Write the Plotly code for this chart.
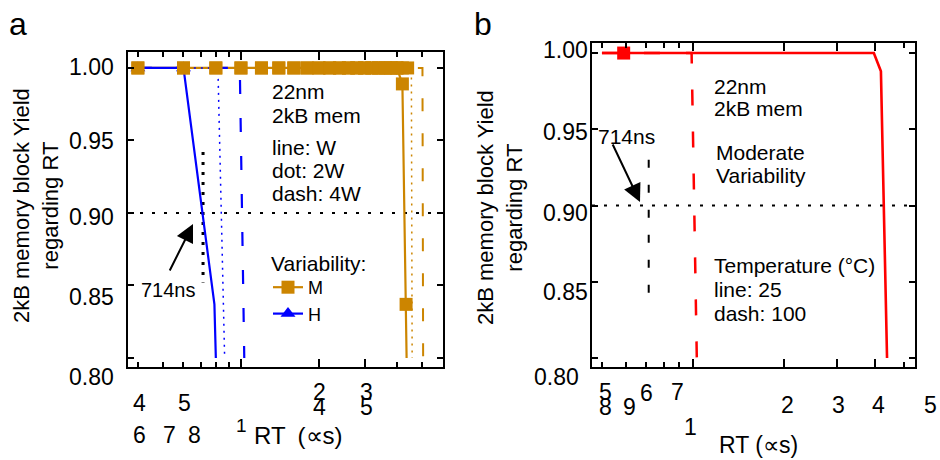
import plotly.graph_objects as go

# ---------------- data ----------------
# Panel a: yield vs read time (RT, µs) for moderate (M) and high (H) variability,
# at cell widths W (solid), 2W (dotted) and 4W (dashed)
M_W_RT = [0.4, 0.6, 0.8, 1.0, 1.2, 1.4, 1.6, 1.8, 2.0, 2.2, 2.4, 2.6, 2.8, 3.0,
          3.2, 3.4, 3.6, 3.8, 4.0, 4.2, 4.34, 4.36]
M_W_YIELD = [1.0, 1.0, 1.0, 1.0, 1.0, 1.0, 1.0, 1.0, 1.0, 1.0, 1.0, 1.0, 1.0, 1.0,
             1.0, 1.0, 1.0, 1.0, 1.0, 0.989, 0.837, 0.80]
M_2W_RT = [0.4, 0.6, 0.8, 1.0, 1.2, 1.4, 1.6, 1.8, 2.0, 2.2, 2.4, 2.6, 2.8, 3.0,
           3.2, 3.4, 3.6, 3.8, 4.0, 4.2, 4.4, 4.55, 4.58]
M_2W_YIELD = [1.0, 1.0, 1.0, 1.0, 1.0, 1.0, 1.0, 1.0, 1.0, 1.0, 1.0, 1.0, 1.0, 1.0,
              1.0, 1.0, 1.0, 1.0, 1.0, 1.0, 1.0, 0.994, 0.80]
M_4W_RT = [0.4, 5.02, 5.05]
M_4W_YIELD = [1.0, 1.0, 0.80]

H_W_RT = [0.4, 0.6, 0.79, 0.80]
H_W_YIELD = [1.0, 1.0, 0.837, 0.80]
H_2W_RT = [0.4, 0.815, 0.865]
H_2W_YIELD = [1.0, 1.0, 0.80]
H_4W_RT = [0.4, 0.99, 1.03]
H_4W_YIELD = [1.0, 1.0, 0.80]

# Panel b: moderate variability at 25 °C (solid) and 100 °C (dashed)
T25_RT = [0.5, 0.59, 3.97, 4.19, 4.39]
T25_YIELD = [1.0, 1.0, 1.0, 0.988, 0.80]
T100_RT = [0.5, 0.99, 1.03]
T100_YIELD = [1.0, 1.0, 0.80]

# 714 ns reference read time and 90 % yield target
REF_RT = 0.714
TARGET_YIELD = 0.90
REF_SPAN_A = [0.942, 0.852]
REF_SPAN_B = [0.930, 0.833]

Y_TICKS = [0.80, 0.85, 0.90, 0.95, 1.00]
Y_TICK_TEXT = ["0.80", "0.85", "0.90", "0.95", "1.00"]

# ---------------- styling ----------------
W, H = 940, 460
FONT = "Arial, 'Liberation Sans', sans-serif"
ORANGE = "#CC8500"
BLUE = "#0000FF"
RED = "#FF0000"
BLACK = "#000000"

XR_A = [-0.436, 0.780]      # log10 range, panel a
XR_B = [-0.334, 0.735]      # log10 range, panel b
YR_A = [0.7938, 1.011]
YR_B = [0.7941, 1.0066]


def px(x):
    return x / W


def py(y):
    return 1 - y / H


fig = go.Figure()


def line(x, y, color, width, dash="solid", xa="x", ya="y"):
    fig.add_trace(go.Scatter(x=x, y=y, mode="lines", xaxis=xa, yaxis=ya,
                             line=dict(color=color, width=width, dash=dash),
                             showlegend=False, hoverinfo="skip"))


def markers(x, y, color, symbol, size, xa="x", ya="y"):
    fig.add_trace(go.Scatter(x=x, y=y, mode="markers", xaxis=xa, yaxis=ya,
                             marker=dict(color=color, symbol=symbol, size=size),
                             showlegend=False, hoverinfo="skip"))


# ---- panel a ----
line([10 ** XR_A[0], 10 ** XR_A[1]], [TARGET_YIELD, TARGET_YIELD], BLACK, 2, "3px,9px")
line([REF_RT, REF_RT], REF_SPAN_A, BLACK, 3, "3px,7px")
line(M_4W_RT, M_4W_YIELD, ORANGE, 2, "13px,22px")
line(M_2W_RT, M_2W_YIELD, ORANGE, 1.5, "2px,5px")
line(M_W_RT, M_W_YIELD, ORANGE, 2.2)
line(H_4W_RT, H_4W_YIELD, BLUE, 2.2, "14px,24px")
line(H_2W_RT, H_2W_YIELD, BLUE, 1.5, "2px,5px")
line(H_W_RT, H_W_YIELD, BLUE, 2.2)
markers(H_W_RT[:2], H_W_YIELD[:2], BLUE, "triangle-up", 13)
markers(M_2W_RT[:-2], M_2W_YIELD[:-2], ORANGE, "square", 13)
markers(M_W_RT[:-1], M_W_YIELD[:-1], ORANGE, "square", 13)

# legend entries
fig.add_trace(go.Scatter(x=[None], y=[None], mode="lines+markers", name="M",
                         line=dict(color=ORANGE, width=2.2),
                         marker=dict(symbol="square", size=13, color=ORANGE)))
fig.add_trace(go.Scatter(x=[None], y=[None], mode="lines+markers", name="H",
                         line=dict(color=BLUE, width=2.2),
                         marker=dict(symbol="triangle-up", size=13, color=BLUE)))

# ---- panel b ----
line([10 ** XR_B[0], 10 ** XR_B[1]], [TARGET_YIELD, TARGET_YIELD], BLACK, 2, "3px,9px", "x2", "y2")
line([REF_RT, REF_RT], REF_SPAN_B, BLACK, 2, "8px,17px", "x2", "y2")
line(T100_RT, T100_YIELD, RED, 2.5, "16px,26px", "x2", "y2")
line(T25_RT, T25_YIELD, RED, 2.6, "solid", "x2", "y2")
markers(T25_RT[1:2], T25_YIELD[1:2], RED, "square", 13, "x2", "y2")

# ---------------- axes ----------------
axis_common = dict(showline=True, linecolor=BLACK, linewidth=2, mirror="ticks",
                   ticks="inside", tickcolor=BLACK, showgrid=False, zeroline=False,
                   showticklabels=False)

fig.update_layout(
    xaxis=dict(axis_common, type="log", range=XR_A, domain=[px(128), px(443)],
               anchor="y", tickvals=[1, 2, 3], ticklen=8, tickwidth=1.5,
               minor=dict(tickvals=[0.4, 0.5, 0.6, 0.7, 0.8, 0.9, 4, 5], ticks="inside",
                          ticklen=5, tickwidth=1.5, tickcolor=BLACK, showgrid=False)),
    yaxis=dict(axis_common, range=YR_A, domain=[py(367), py(52)], anchor="x",
               tickvals=Y_TICKS, ticklen=6, tickwidth=1.5),
    xaxis2=dict(axis_common, type="log", range=XR_B, domain=[px(592), px(915)],
                anchor="y2", tickvals=[1, 2, 3, 4], ticklen=8, tickwidth=1.5,
                minor=dict(tickvals=[0.5, 0.6, 0.7, 0.8, 0.9, 5], ticks="inside",
                           ticklen=5, tickwidth=1.5, tickcolor=BLACK, showgrid=False)),
    yaxis2=dict(axis_common, range=YR_B, domain=[py(367), py(43)], anchor="x2",
                tickvals=Y_TICKS, ticklen=6, tickwidth=1.5),
)

# ---------------- text ----------------
ann = []


def text(t, x, y, size=21, xanchor="left", yanchor="middle", angle=0):
    ann.append(dict(text=t, x=px(x), y=py(y), xref="paper", yref="paper",
                    xanchor=xanchor, yanchor=yanchor, showarrow=False, textangle=angle,
                    font=dict(family=FONT, size=size, color=BLACK)))


def arrow(tail, head):
    ann.append(dict(text="", x=px(head[0]), y=py(head[1]), xref="paper", yref="paper",
                    ax=tail[0] - head[0], ay=tail[1] - head[1], showarrow=True,
                    arrowhead=2, arrowsize=1.8, arrowwidth=2, arrowcolor=BLACK))


# panel letters
text("a", 18, 24, 32, "center")
text("b", 483, 24, 32, "center")

# y-axis titles
text("2kB memory block Yield<br>regarding RT", 36, 206, 22, "center", angle=-90)
text("2kB memory block Yield<br>regarding RT", 500, 208, 22, "center", angle=-90)

# y tick labels
for lab, ya, yb in zip(Y_TICK_TEXT, [377, 297, 217, 141, 67], [377, 292, 213, 132, 50]):
    text(lab, 116, ya, 23, "right")
    text(lab, 590 if lab != "0.80" else 581, yb, 23, "right")

# x tick labels, panel a (stacked digits overlap as printed)
for lab, x, y in [("4", 139, 403), ("5", 184, 403), ("6", 139, 435), ("7", 169, 435),
                  ("8", 194, 435), ("2", 319, 392), ("4", 319, 407), ("3", 366, 392),
                  ("5", 366, 407)]:
    text(lab, x, y, 23, "center")
text("1", 242, 425, 19, "center")
text("RT\u2002(\u221Ds)", 252, 435, 24, "left")

# x tick labels, panel b
for lab, x, y in [("5", 605, 392), ("8", 605, 407), ("9", 629, 407), ("6", 646, 393),
                  ("7", 677, 392), ("2", 787, 405), ("3", 838, 405), ("4", 878, 405),
                  ("5", 930, 405), ("1", 690, 427)]:
    text(lab, x, y, 23, "center")
text("RT (\u221Ds)", 758, 445, 23, "center")

# panel a notes
for t, y in [("22nm", 92), ("2kB mem", 115), ("line: W", 147), ("dot: 2W", 171),
             ("dash: 4W", 193)]:
    text(t, 270, y)
text("Variability:", 269, 263)
text("714ns", 168, 290, 20, "center")
arrow((169, 272), (193, 224))

# panel b notes
for t, x, y in [("22nm", 712, 86), ("2kB mem", 712, 109), ("Moderate", 714, 152),
                ("Variability", 714, 175), ("Temperature (°C)", 712, 265),
                ("line: 25", 712, 289), ("dash: 100", 712, 313)]:
    text(t, x, y)
text("714ns", 626, 137, 21, "center")
arrow((612, 143), (640, 202))

fig.update_layout(
    width=W, height=H, margin=dict(l=0, r=0, t=0, b=0),
    paper_bgcolor="white", plot_bgcolor="white",
    font=dict(family=FONT, size=21, color=BLACK),
    annotations=ann,
    showlegend=True,
    legend=dict(x=px(268), y=py(269), xanchor="left", yanchor="top",
                font=dict(size=18), bgcolor="rgba(0,0,0,0)", itemwidth=30,
                tracegroupgap=0),
)

fig.write_html("out.html")
